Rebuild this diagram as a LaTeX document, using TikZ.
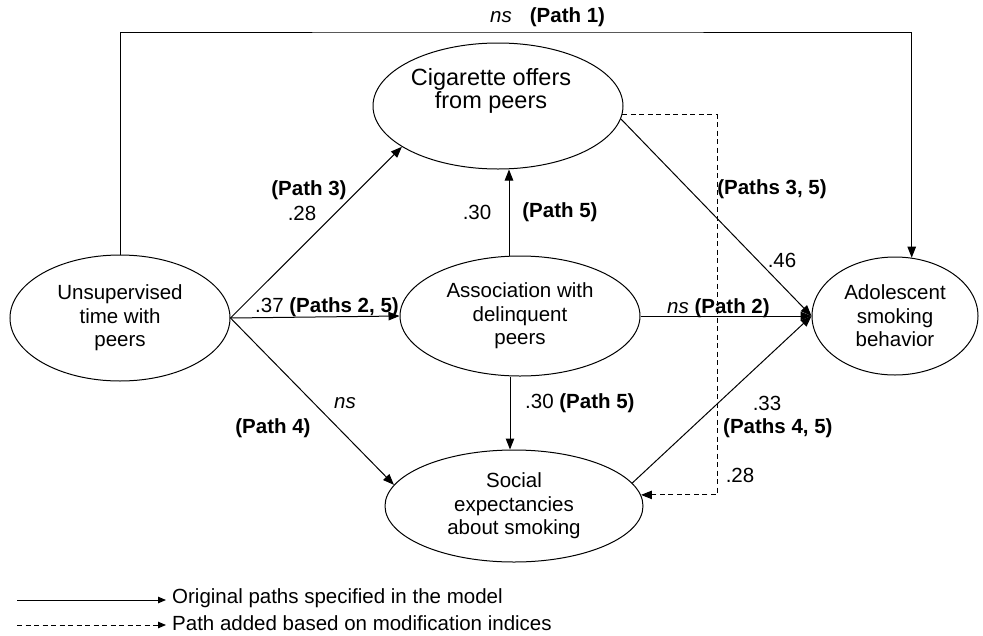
\documentclass[tikz,border=0pt]{standalone}
\usepackage{fontspec}
\setmainfont{Liberation Sans}
\usetikzlibrary{shapes.geometric,arrows.meta}
\begin{document}
\begin{tikzpicture}[x=1pt,y=-1pt,
  font=\fontsize{20.5}{23.5}\selectfont,
  ell/.style={ellipse,draw,line width=1pt,inner sep=0pt,align=center},
  lab/.style={inner sep=0pt,align=center},
  arr/.style={line width=1pt,-{Triangle[length=11pt,width=8.5pt]}},
  dsh/.style={arr,dash pattern=on 5pt off 3.5pt},
  legarr/.style={line width=1pt,-{Triangle[length=8pt,width=6.5pt]}},
  legdsh/.style={legarr,dash pattern=on 5pt off 3.5pt},
]
\useasboundingbox (0,0) rectangle (983,635);
% ellipses
\node[ell,minimum width=220pt,minimum height=126pt] (u) at (120,318) {Unsupervised\\time with\\peers};
\node[ell,minimum width=250pt,minimum height=126pt] (c) at (498,106) {};
\node[lab,font=\fontsize{23.5}{23.5}\selectfont] (ct) at (491,91) {Cigarette offers\\from peers};
\node[ell,minimum width=240pt,minimum height=120pt] (as) at (520,316) {Association with\\delinquent\\peers};
\node[ell,minimum width=166pt,minimum height=118pt] (ad) at (895,316) {Adolescent\\smoking\\behavior};
\node[ell,minimum width=258pt,minimum height=112pt] (s) at (514,506) {Social\\expectancies\\about smoking};
% helper coordinates
\coordinate (t1) at (500,32);
\coordinate (dk) at (717,300);
% connectors
\draw[arr] (u.north) |- (t1) -| (ad.74);
\draw[arr] (u.east) -- (c.203);
\draw[arr] (u.east) -- (as.west);
\draw[arr] (u.east) -- (s.170);
\draw[arr] ([xshift=-11pt]as.north) -- ([xshift=11pt]c.south);
\draw[arr] ([xshift=-10pt]as.south) -- ([xshift=-4pt]s.north);
\draw[arr] (as.east) -- (ad.west);
\draw[arr] (c.-6) -- (ad.west);
\draw[arr] (s.11) -- (ad.west);
\draw[dsh] (c.-4) -| (dk) |- (s.5);
% labels
\node[lab,anchor=west] (l1) at (490,17) {\textit{ns}\hspace{18pt}\textbf{(Path 1)}};
\node[lab] (l3) at (309,190) {\textbf{(Path 3)}};
\node[lab] (l3v) at (302,213) {.28};
\node[lab,anchor=west] (l25) at (255,307) {.37 \textbf{(Paths 2, 5)}};
\node[lab] (l5v) at (477,212) {.30};
\node[lab] (l5) at (560,212) {\textbf{(Path 5)}};
\node[lab] (l35) at (772,189) {\textbf{(Paths 3, 5)}};
\node[lab] (l35v) at (782,260) {.46};
\node[lab,anchor=west] (l2) at (667,308) {\textit{ns} \textbf{(Path 2)}};
\node[lab] (l4v) at (345,403) {\textit{ns}};
\node[lab] (l4) at (273,428) {\textbf{(Path 4)}};
\node[lab,anchor=west] (l5b) at (525,403) {.30 \textbf{(Path 5)}};
\node[lab] (l45v) at (767,403) {.33};
\node[lab,anchor=west] (l45) at (723,428) {\textbf{(Paths 4, 5)}};
\node[lab] (lmv) at (740,475) {.28};
% legend
\coordinate (ga) at (17,600);
\coordinate (gb) at (166,600);
\coordinate (ha) at (17,625);
\coordinate (hb) at (166,625);
\draw[legarr] (ga) -- (gb);
\draw[legdsh] (ha) -- (hb);
\node[lab,anchor=west] (gt) at (172,598) {Original paths specified in the model};
\node[lab,anchor=west] (ht) at (172,623) {Path added based on modification indices};
\end{tikzpicture}
\end{document}
